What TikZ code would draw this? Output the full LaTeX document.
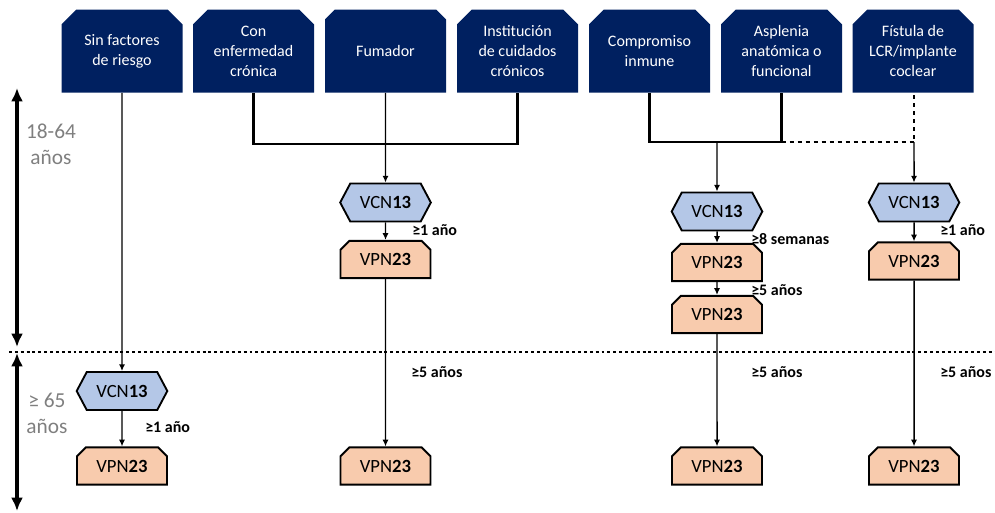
\documentclass[tikz,border=0pt]{standalone}
\usepackage{fontspec}
\setmainfont{Carlito}
\usetikzlibrary{arrows.meta,shapes.misc,shapes.symbols}
\definecolor{navy}{HTML}{002060}
\definecolor{vcnblue}{HTML}{B4C7E7}
\definecolor{vpnpeach}{HTML}{F8CBAD}
\definecolor{agegray}{HTML}{7F7F7F}
\tikzset{
  hdr/.style={chamfered rectangle, chamfered rectangle corners={north west,north east},
    chamfered rectangle xsep=8pt, fill=navy, text=white, minimum width=90.75pt,
    minimum height=62.25pt, align=center, inner sep=0pt, font=\fontsize{12}{15}\selectfont},
  vcn/.style={signal, signal to=east and west, signal pointer angle=124, draw, line width=1.4pt,
    fill=vcnblue, minimum width=68pt, minimum height=28.5pt, inner sep=0pt,
    font=\fontsize{14}{16}\selectfont},
  vpn/.style={chamfered rectangle, chamfered rectangle corners={north west,north east},
    chamfered rectangle xsep=3.5pt, draw, line width=1.4pt, fill=vpnpeach,
    minimum width=67.5pt, minimum height=28pt, inner sep=0pt, font=\fontsize{14}{16}\selectfont},
  gap/.style={anchor=west, inner sep=0pt, font=\bfseries\fontsize{12}{14}\selectfont},
  age/.style={text=agegray, align=center, inner sep=0pt, font=\fontsize{16}{19.5}\selectfont},
  link/.style={line width=1.6pt},
  go/.style={line width=1.1pt, -{Latex[length=5pt,width=4.5pt]}},
  span/.style={line width=2.8pt, {Latex[length=10pt,width=9pt]}-{Latex[length=10pt,width=9pt]}}
}
\begin{document}
\begin{tikzpicture}[x=0.75pt,y=-0.75pt]
    \useasboundingbox (0,0) rectangle (995,512);
    % risk groups
    \node[hdr] (h1) at (122,51) {Sin factores\\de riesgo};
    \node[hdr] (h2) at (253.5,51) {Con\\enfermedad\\crónica};
    \node[hdr] (h3) at (385.5,51) {Fumador};
    \node[hdr] (h4) at (517.5,51) {Institución\\de cuidados\\crónicos};
    \node[hdr] (h5) at (649.5,51) {Compromiso\\inmune};
    \node[hdr] (h6) at (781.5,51) {Asplenia\\anatómica o\\funcional};
    \node[hdr] (h7) at (913,51) {Fístula de\\LCR/implante\\coclear};
    % age bands
    \coordinate (a1) at (17,88);
    \coordinate (a2) at (17,347);
    \coordinate (a3) at (17,353);
    \coordinate (a4) at (17,511);
    \draw[span] (a1) -- (a2);
    \draw[span] (a3) -- (a4);
    \coordinate (d1) at (9,352);
    \coordinate (d2) at (995,352);
    \draw[line width=2pt, dash pattern=on 2.2pt off 2.2pt] (d1) -- (d2);
    \node[age] (t1) at (51,144) {18-64\\años};
    \node[age] (t2) at (47,413) {≥ 65\\años};
    % vaccines
    \node[vcn] (v1) at (122,391) {VCN\textbf{13}};
    \node[vpn] (p1) at (122,466) {VPN\textbf{23}};
    \node[vcn] (v2) at (385.5,202.5) {VCN\textbf{13}};
    \node[vpn] (p2) at (385.5,259.5) {VPN\textbf{23}};
    \node[vpn] (q2) at (385.5,466) {VPN\textbf{23}};
    \node[vcn] (v3) at (717,211.5) {VCN\textbf{13}};
    \node[vpn] (p3) at (717,262.5) {VPN\textbf{23}};
    \node[vpn] (r3) at (717,314.5) {VPN\textbf{23}};
    \node[vpn] (q3) at (717,466) {VPN\textbf{23}};
    \node[vcn] (v4) at (914,202.5) {VCN\textbf{13}};
    \node[vpn] (p4) at (914,261) {VPN\textbf{23}};
    \node[vpn] (q4) at (914,466) {VPN\textbf{23}};
    % intervals
    \node[gap] (g1) at (145,427) {≥1 año};
    \node[gap] (g2) at (412,230) {≥1 año};
    \node[gap] (g3) at (411,372) {≥5 años};
    \node[gap] (g4) at (751,239) {≥8 semanas};
    \node[gap] (g5) at (751,290) {≥5 años};
    \node[gap] (g6) at (751,372) {≥5 años};
    \node[gap] (g7) at (940,230) {≥1 año};
    \node[gap] (g8) at (940,372) {≥5 años};
    % connectors
    \coordinate (m2) at (385.5,144);
    \coordinate (m3) at (717,142);
    \draw[link] (h2.south) |- (h4.south |- m2) -- (h4.south);
    \draw[link] (h5.south) |- (h6.south |- m3) -- (h6.south);
    \draw[link, dashed] (h6.south |- m3) -- (v4 |- m3) -- (h7.south -| v4);
    \draw[go] (h1) -- (v1);
    \draw[go] (v1) -- (p1);
    \draw[go] (h3) -- (v2);
    \draw[go] (v2) -- (p2);
    \draw[go] (p2) -- (q2);
    \draw[go] (m3) -- (v3);
    \draw[go] (v3) -- (p3);
    \draw[go] (p3) -- (r3);
    \draw[go] (r3) -- (q3);
    \draw[go] (v4 |- m3) -- (v4);
    \draw[go] (v4) -- (p4);
    \draw[go] (p4) -- (q4);
\end{tikzpicture}
\end{document}
